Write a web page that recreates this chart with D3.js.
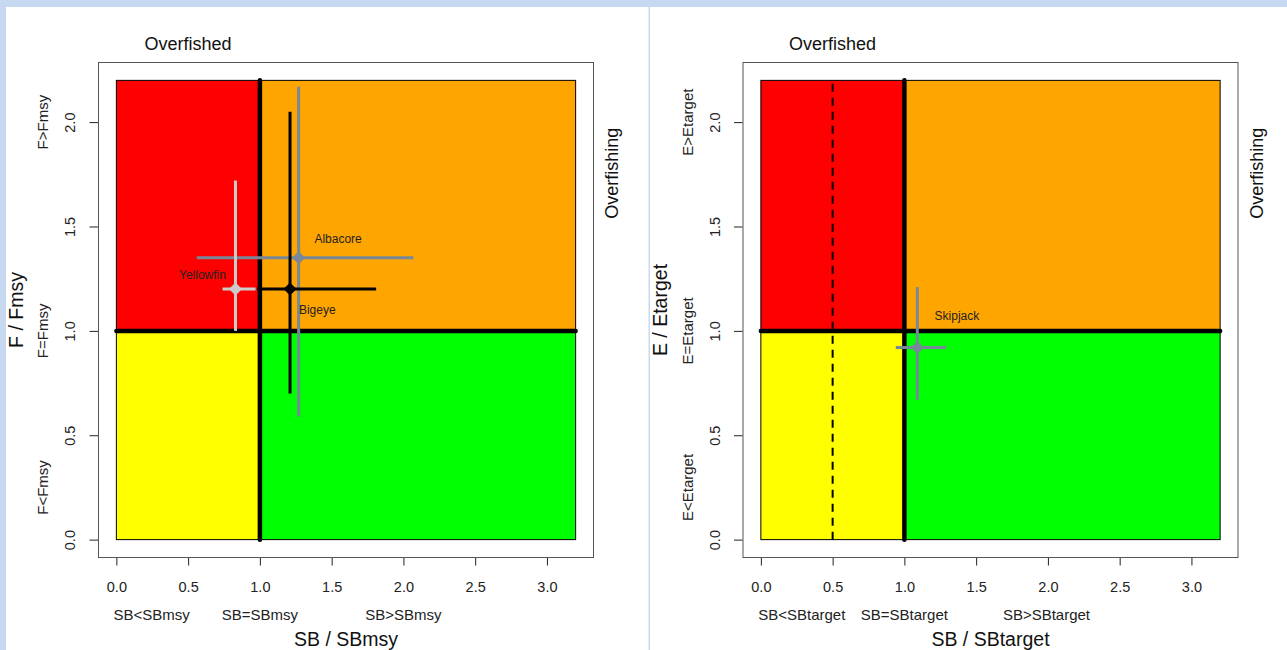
<!DOCTYPE html>
<html>
<head>
<meta charset="utf-8">
<script src="https://cdn.jsdelivr.net/npm/d3@7"></script>
<style>
html,body{margin:0;padding:0;background:#c6d9f0;overflow:hidden;}
svg{display:block;font-family:"Liberation Sans",Arial,sans-serif;}
</style>
</head>
<body>
<svg id="chart" width="1287" height="650"></svg>
<script>
// ---- data ----
const xTicks = [0, 0.5, 1, 1.5, 2, 2.5, 3];
const yTicks = [0, 0.5, 1, 1.5, 2];
const zoneXMax = 3.2, zoneYMax = 2.2;

// left panel (MSY based)
const leftNames   = ["Albacore", "Bigeye", "Yellowfin"];
const leftSB      = [1.27, 1.21, 0.83];
const leftSBLo    = [0.56, 0.98, 0.74];
const leftSBHi    = [2.07, 1.81, 0.97];
const leftF       = [1.35, 1.20, 1.20];
const leftFLo     = [0.59, 0.70, 1.00];
const leftFHi     = [2.17, 2.05, 1.72];
const leftColors  = ["#778899", "#000000", "#cccccc"];
const leftLabelX  = [1.545, 1.40, 0.60];
const leftLabelY  = [1.44, 1.10, 1.27];

// right panel (target based)
const rightNames  = ["Skipjack"];
const rightSB     = [1.09];
const rightSBLo   = [0.94];
const rightSBHi   = [1.29];
const rightE      = [0.92];
const rightELo    = [0.67];
const rightEHi    = [1.21];
const rightColors = ["#778899"];
const rightLabelX = [1.366];
const rightLabelY = [1.07];

const leftXLabels  = ["SB<SBmsy", "SB=SBmsy", "SB>SBmsy"];
const rightXLabels = ["SB<SBtarget", "SB=SBtarget", "SB>SBtarget"];
const leftYLabels  = ["F<Fmsy", "F=Fmsy", "F>Fmsy"];
const rightYLabels = ["E<Etarget", "E=Etarget", "E>Etarget"];
const leftSecXPos  = [0.245, 1, 2];
const rightSecXPos = [0.285, 1, 1.99];
const secYPos = [0.25, 1, 2];

// ---- drawing ----
const svg = d3.select("#chart");
svg.append("rect").attr("x",0).attr("y",0).attr("width",1287).attr("height",650).attr("fill","#c6d9f0");
svg.append("rect").attr("x",6).attr("y",7).attr("width",642.5).attr("height",643).attr("fill","#ffffff");
svg.append("rect").attr("x",650).attr("y",7).attr("width",637).attr("height",643).attr("fill","#ffffff");

function panel(opt){
  const x = d3.scaleLinear().domain([-0.128, 3.328]).range([opt.left, opt.left + 496]);
  const y = d3.scaleLinear().domain([-0.088, 2.288]).range([558, 62]);
  const g = svg.append("g");
  const zones = [
    {a:0, b:1, c:1, d:zoneYMax, col:"#ff0000"},
    {a:1, b:zoneXMax, c:1, d:zoneYMax, col:"#ffa500"},
    {a:0, b:1, c:0, d:1, col:"#ffff00"},
    {a:1, b:zoneXMax, c:0, d:1, col:"#00ff00"}
  ];
  g.selectAll("rect.zone").data(zones).enter().append("rect")
    .attr("x", d=>x(d.a)).attr("y", d=>y(d.d))
    .attr("width", d=>x(d.b)-x(d.a)).attr("height", d=>y(d.c)-y(d.d))
    .attr("fill", d=>d.col).attr("stroke","#000").attr("stroke-width",1);

  if (opt.dashed){
    g.append("line").attr("x1",x(0.5)).attr("x2",x(0.5)).attr("y1",y(0)).attr("y2",y(zoneYMax))
      .attr("stroke","#000").attr("stroke-width",2).attr("stroke-dasharray","8,6");
  }
  g.append("line").attr("x1",x(1)).attr("x2",x(1)).attr("y1",y(0)).attr("y2",y(zoneYMax))
    .attr("stroke","#000").attr("stroke-width",4.5).attr("stroke-linecap","round");
  g.append("line").attr("x1",x(0)).attr("x2",x(zoneXMax)).attr("y1",y(1)).attr("y2",y(1))
    .attr("stroke","#000").attr("stroke-width",4.5).attr("stroke-linecap","round");

  // frame
  g.append("rect").attr("x",x.range()[0]+0.5).attr("y",62.5).attr("width",495).attr("height",495)
    .attr("fill","none").attr("stroke","#555").attr("stroke-width",1);

  // axes
  const ax = g.append("g").attr("transform","translate(0,558)")
    .call(d3.axisBottom(x).tickValues(xTicks).tickFormat(d3.format(".1f")).tickSize(7.5).tickSizeOuter(0));
  ax.select(".domain").remove();
  ax.selectAll("text").attr("y",29).attr("dy","0.35em").attr("font-size","14.5px").attr("fill","#222")
    .attr("font-family","Liberation Sans, Arial, sans-serif");
  ax.selectAll("line").attr("stroke","#222");

  const ay = g.append("g").attr("transform",`translate(${x.range()[0]},0)`)
    .call(d3.axisLeft(y).tickValues(yTicks).tickFormat(d3.format(".1f")).tickSize(8.5).tickSizeOuter(0));
  ay.select(".domain").remove();
  ay.selectAll("text").attr("x",0).attr("y",0).attr("dy","0.35em").attr("text-anchor","middle")
    .attr("transform","translate(-28,0) rotate(-90)").attr("font-size","14.5px").attr("fill","#222")
    .attr("font-family","Liberation Sans, Arial, sans-serif");
  ay.selectAll("line").attr("stroke","#222");

  // secondary labels
  g.selectAll("text.secx").data(opt.xLabels).enter().append("text")
    .attr("x",(d,i)=>x(opt.secX[i])).attr("y",615).attr("dy","0.35em")
    .attr("text-anchor","middle").attr("font-size","15px").attr("fill","#222").text(d=>d);
  g.selectAll("text.secy").data(opt.yLabels).enter().append("text")
    .attr("transform",(d,i)=>`translate(${x.range()[0]-55},${y(secYPos[i])}) rotate(-90)`)
    .attr("dy","0.35em").attr("text-anchor","middle").attr("font-size","15px").attr("fill","#222").text(d=>d);

  // titles
  g.append("text").attr("x",(x.range()[0]+x.range()[1])/2).attr("y",639).attr("dy","0.35em")
    .attr("text-anchor","middle").attr("font-size","19.5px").attr("fill","#111").text(opt.xTitle);
  g.append("text").attr("transform",`translate(${x.range()[0]-82},${(62+558)/2}) rotate(-90)`)
    .attr("dy","0.35em").attr("text-anchor","middle").attr("font-size","19.5px").attr("fill","#111").text(opt.yTitle);
  g.append("text").attr("x",x(0.5)).attr("y",44).attr("dy","0.35em")
    .attr("text-anchor","middle").attr("font-size","18px").attr("fill","#111").text("Overfished");
  g.append("text").attr("transform",`translate(${x.range()[1]+18},${y(1.755)}) rotate(-90)`)
    .attr("dy","0.35em").attr("text-anchor","middle").attr("font-size","18px").attr("fill","#111").text("Overfishing");

  // error bars and points
  opt.names.forEach((n,i)=>{
    const col = opt.colors[i];
    g.append("line").attr("x1",x(opt.sbLo[i])).attr("x2",x(opt.sbHi[i])).attr("y1",y(opt.fy[i])).attr("y2",y(opt.fy[i]))
      .attr("stroke",col).attr("stroke-width",3);
    g.append("line").attr("x1",x(opt.sb[i])).attr("x2",x(opt.sb[i])).attr("y1",y(opt.fyLo[i])).attr("y2",y(opt.fyHi[i]))
      .attr("stroke",col).attr("stroke-width",3);
    const px = x(opt.sb[i]), py = y(opt.fy[i]), r = 6.5;
    g.append("path").attr("d",`M${px},${py-r}L${px+r},${py}L${px},${py+r}L${px-r},${py}Z`).attr("fill",col);
    g.append("text").attr("x",x(opt.lx[i])).attr("y",y(opt.ly[i])).attr("dy","0.35em")
      .attr("text-anchor","middle").attr("font-size","12px").attr("fill","#222").text(n);
  });
}

panel({left:98, dashed:false, xLabels:leftXLabels, secX:leftSecXPos, yLabels:leftYLabels, xTitle:"SB / SBmsy", yTitle:"F / Fmsy",
  names:leftNames, sb:leftSB, sbLo:leftSBLo, sbHi:leftSBHi, fy:leftF, fyLo:leftFLo, fyHi:leftFHi,
  colors:leftColors, lx:leftLabelX, ly:leftLabelY});
panel({left:742.5, dashed:true, xLabels:rightXLabels, secX:rightSecXPos, yLabels:rightYLabels, xTitle:"SB / SBtarget", yTitle:"E / Etarget",
  names:rightNames, sb:rightSB, sbLo:rightSBLo, sbHi:rightSBHi, fy:rightE, fyLo:rightELo, fyHi:rightEHi,
  colors:rightColors, lx:rightLabelX, ly:rightLabelY});
</script>
</body>
</html>
